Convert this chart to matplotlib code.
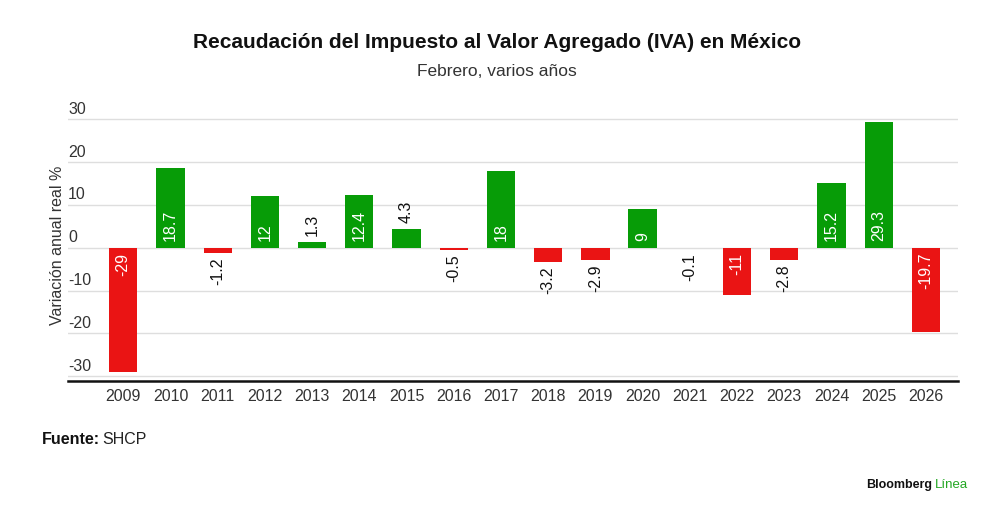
import matplotlib.pyplot as plt

GREEN = "#079c07"
RED = "#ea1414"
FONT = "Liberation Sans"

years = [str(y) for y in range(2009, 2027)]
values = [-29, 18.7, -1.2, 12, 1.3, 12.4, 4.3, -0.5, 18, -3.2, -2.9, 9, -0.1, -11, -2.8, 15.2, 29.3, -19.7]
value_labels = ["-29", "18.7", "-1.2", "12", "1.3", "12.4", "4.3", "-0.5", "18", "-3.2", "-2.9", "9",
                "-0.1", "-11", "-2.8", "15.2", "29.3", "-19.7"]
yticks = [30, 20, 10, 0, -10, -20, -30]

plt.rcParams['font.family'] = [FONT, 'DejaVu Sans']

fig = plt.figure(figsize=(10, 5.16), dpi=100)
ax = fig.add_axes([0.068, 1 - 381 / 516, 0.89, (381 - 110) / 516])

x = list(range(len(years)))
colors = [GREEN if v >= 0 else RED for v in values]
ax.bar(x, values, width=0.6, color=colors, zorder=3)

ax.set_xlim(-1.17, len(years) - 1 + 0.68)
ax.set_ylim(-31.1, 32.2)

# grid lines and tick texts sitting on top of them
for t in yticks:
    ax.axhline(t, color="#dedede", lw=1, zorder=1)
    ax.text(0, t + 0.6, str(t), transform=ax.get_yaxis_transform(), ha="left", va="bottom",
            fontsize=11.5, color="#333333")

# value labels: inside the bar when it is tall enough, otherwise just past its end
for xi, v, lab in zip(x, values, value_labels):
    if abs(v) > 5:
        off = 1.7 if v > 0 else -1.1
        ax.text(xi, off, lab, rotation=90, ha="center", va="bottom" if v > 0 else "top",
                color="white", fontsize=11.5, zorder=4)
    else:
        off = v + (1.5 if v > 0 else -1.1)
        ax.text(xi, off, lab, rotation=90, ha="center", va="bottom" if v > 0 else "top",
                color="#111111", fontsize=11.5, zorder=4)

ax.set_xticks(x)
ax.set_xticklabels(years, fontsize=11.5, color="#333333")
ax.tick_params(axis="x", length=0, pad=6)
ax.set_yticks([])
for side in ["top", "right", "left"]:
    ax.spines[side].set_visible(False)
ax.spines["bottom"].set_color("#111111")
ax.spines["bottom"].set_linewidth(1.8)
ax.spines["bottom"].set_zorder(5)

ax.set_ylabel("Variación anual real %", fontsize=11.5, color="#333333")
ax.yaxis.set_label_coords(-0.0035, 0.5)

fig.text(0.497, 1 - 42 / 516, "Recaudación del Impuesto al Valor Agregado (IVA) en México",
         ha="center", va="center", fontsize=15, fontweight="bold", color="#111111")
fig.text(0.497, 1 - 72 / 516, "Febrero, varios años", ha="center", va="center",
         fontsize=12.5, color="#333333")

t1 = fig.text(0.042, 1 - 440 / 516, "Fuente:", ha="left", va="center", fontsize=11.5,
              fontweight="bold", color="#111111")
fig.canvas.draw()
bb = t1.get_window_extent()
fig.text((bb.x1 + 2) / fig.bbox.width, 1 - 440 / 516, "SHCP", ha="left", va="center",
         fontsize=11.5, color="#222222")

t2 = fig.text(0.9685, 1 - 485 / 516, "Línea", ha="right", va="center", fontsize=9.5,
              color="#22a722")
fig.canvas.draw()
bb2 = t2.get_window_extent()
fig.text((bb2.x0 - 3) / fig.bbox.width, 1 - 485 / 516, "Bloomberg", ha="right", va="center",
         fontsize=9, fontweight="bold", color="#111111")

fig.savefig("out.png", dpi=100)
